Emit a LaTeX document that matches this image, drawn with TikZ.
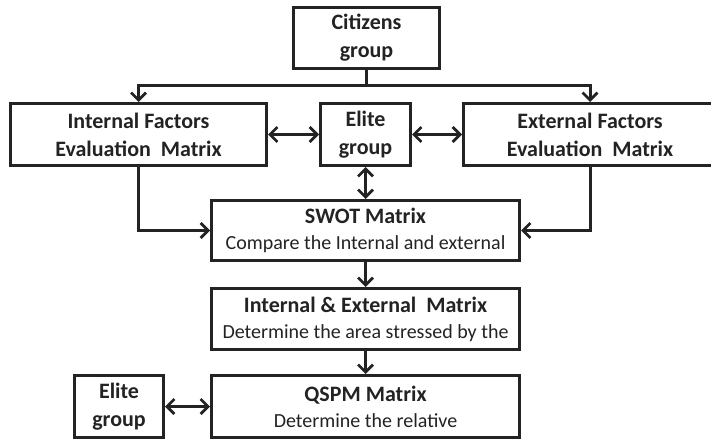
\documentclass[tikz,border=0pt]{standalone}
\usepackage{fontspec}
\setmainfont{Carlito}
\usetikzlibrary{arrows.meta,positioning}

\definecolor{inkgray}{RGB}{35,35,35}

\tikzset{
    box/.style={draw=inkgray, line width=3pt, fill=white, align=center,
        text=inkgray, inner sep=2pt},
    title/.style={font=\fontsize{22}{28}\selectfont\bfseries},
    arr/.style={draw=inkgray, line width=3pt,
        -{Straight Barb[length=7.5pt,width=15pt,line width=2.7pt]}},
    darr/.style={draw=inkgray, line width=3pt,
        {Straight Barb[length=7.5pt,width=15pt,line width=2.7pt]}-{Straight Barb[length=7.5pt,width=15pt,line width=2.7pt]}}
}

\newcommand{\sub}[1]{{\fontsize{20}{24}\selectfont\mdseries #1}}

\begin{document}
\begin{tikzpicture}[x=1pt, y=-1pt]
    \clip (0,0) rectangle (711,441);

    % Top group
    \node[box, title, minimum width=146pt, minimum height=61pt] (citizens) at (366.5,38) {Citizens\\group};

    % Second row
    \node[box, title, minimum width=256pt, minimum height=62pt] (ifem) at (138.5,134.5) {Internal Factors\\Evaluation~~Matrix};
    \node[box, title, minimum width=90pt, minimum height=62pt] (elite) at (365.5,134.5) {Elite\\group};
    \node[box, title, minimum width=253pt, minimum height=62pt] (efem) at (590,134.5) {External Factors\\Evaluation~~Matrix};

    % Matrix stages
    \node[box, title, minimum width=308pt, minimum height=60pt] (swot) at (365.5,230.5) {SWOT Matrix\\[-2pt]\sub{Compare the Internal and external}};
    \node[box, title, minimum width=308pt, minimum height=61pt] (iem) at (365.5,319) {Internal \& External~~Matrix\\[-2pt]\sub{Determine the area stressed by the}};
    \node[box, title, minimum width=308pt, minimum height=62pt] (qspm) at (365.5,406.5) {QSPM Matrix\\[-2pt]\sub{Determine the relative}};
    \node[box, title, minimum width=89pt, minimum height=62pt] (elite2) at (119,406.5) {Elite\\group};

    % Connectors
    \draw[arr] (citizens.south) -- ++(0,16) -| (ifem.north);
    \draw[arr] (citizens.south) -- ++(0,16) -| (efem.north);
    \draw[darr] (ifem.east) -- (elite.west);
    \draw[darr] (elite.east) -- (efem.west);
    \draw[darr] (elite.south) -- (swot.north);
    \draw[arr] (ifem.south) |- (swot.west);
    \draw[arr] (efem.south) |- (swot.east);
    \draw[arr] (swot.south) -- (iem.north);
    \draw[arr] (iem.south) -- (qspm.north);
    \draw[darr] (elite2.east) -- (qspm.west);
\end{tikzpicture}
\end{document}
